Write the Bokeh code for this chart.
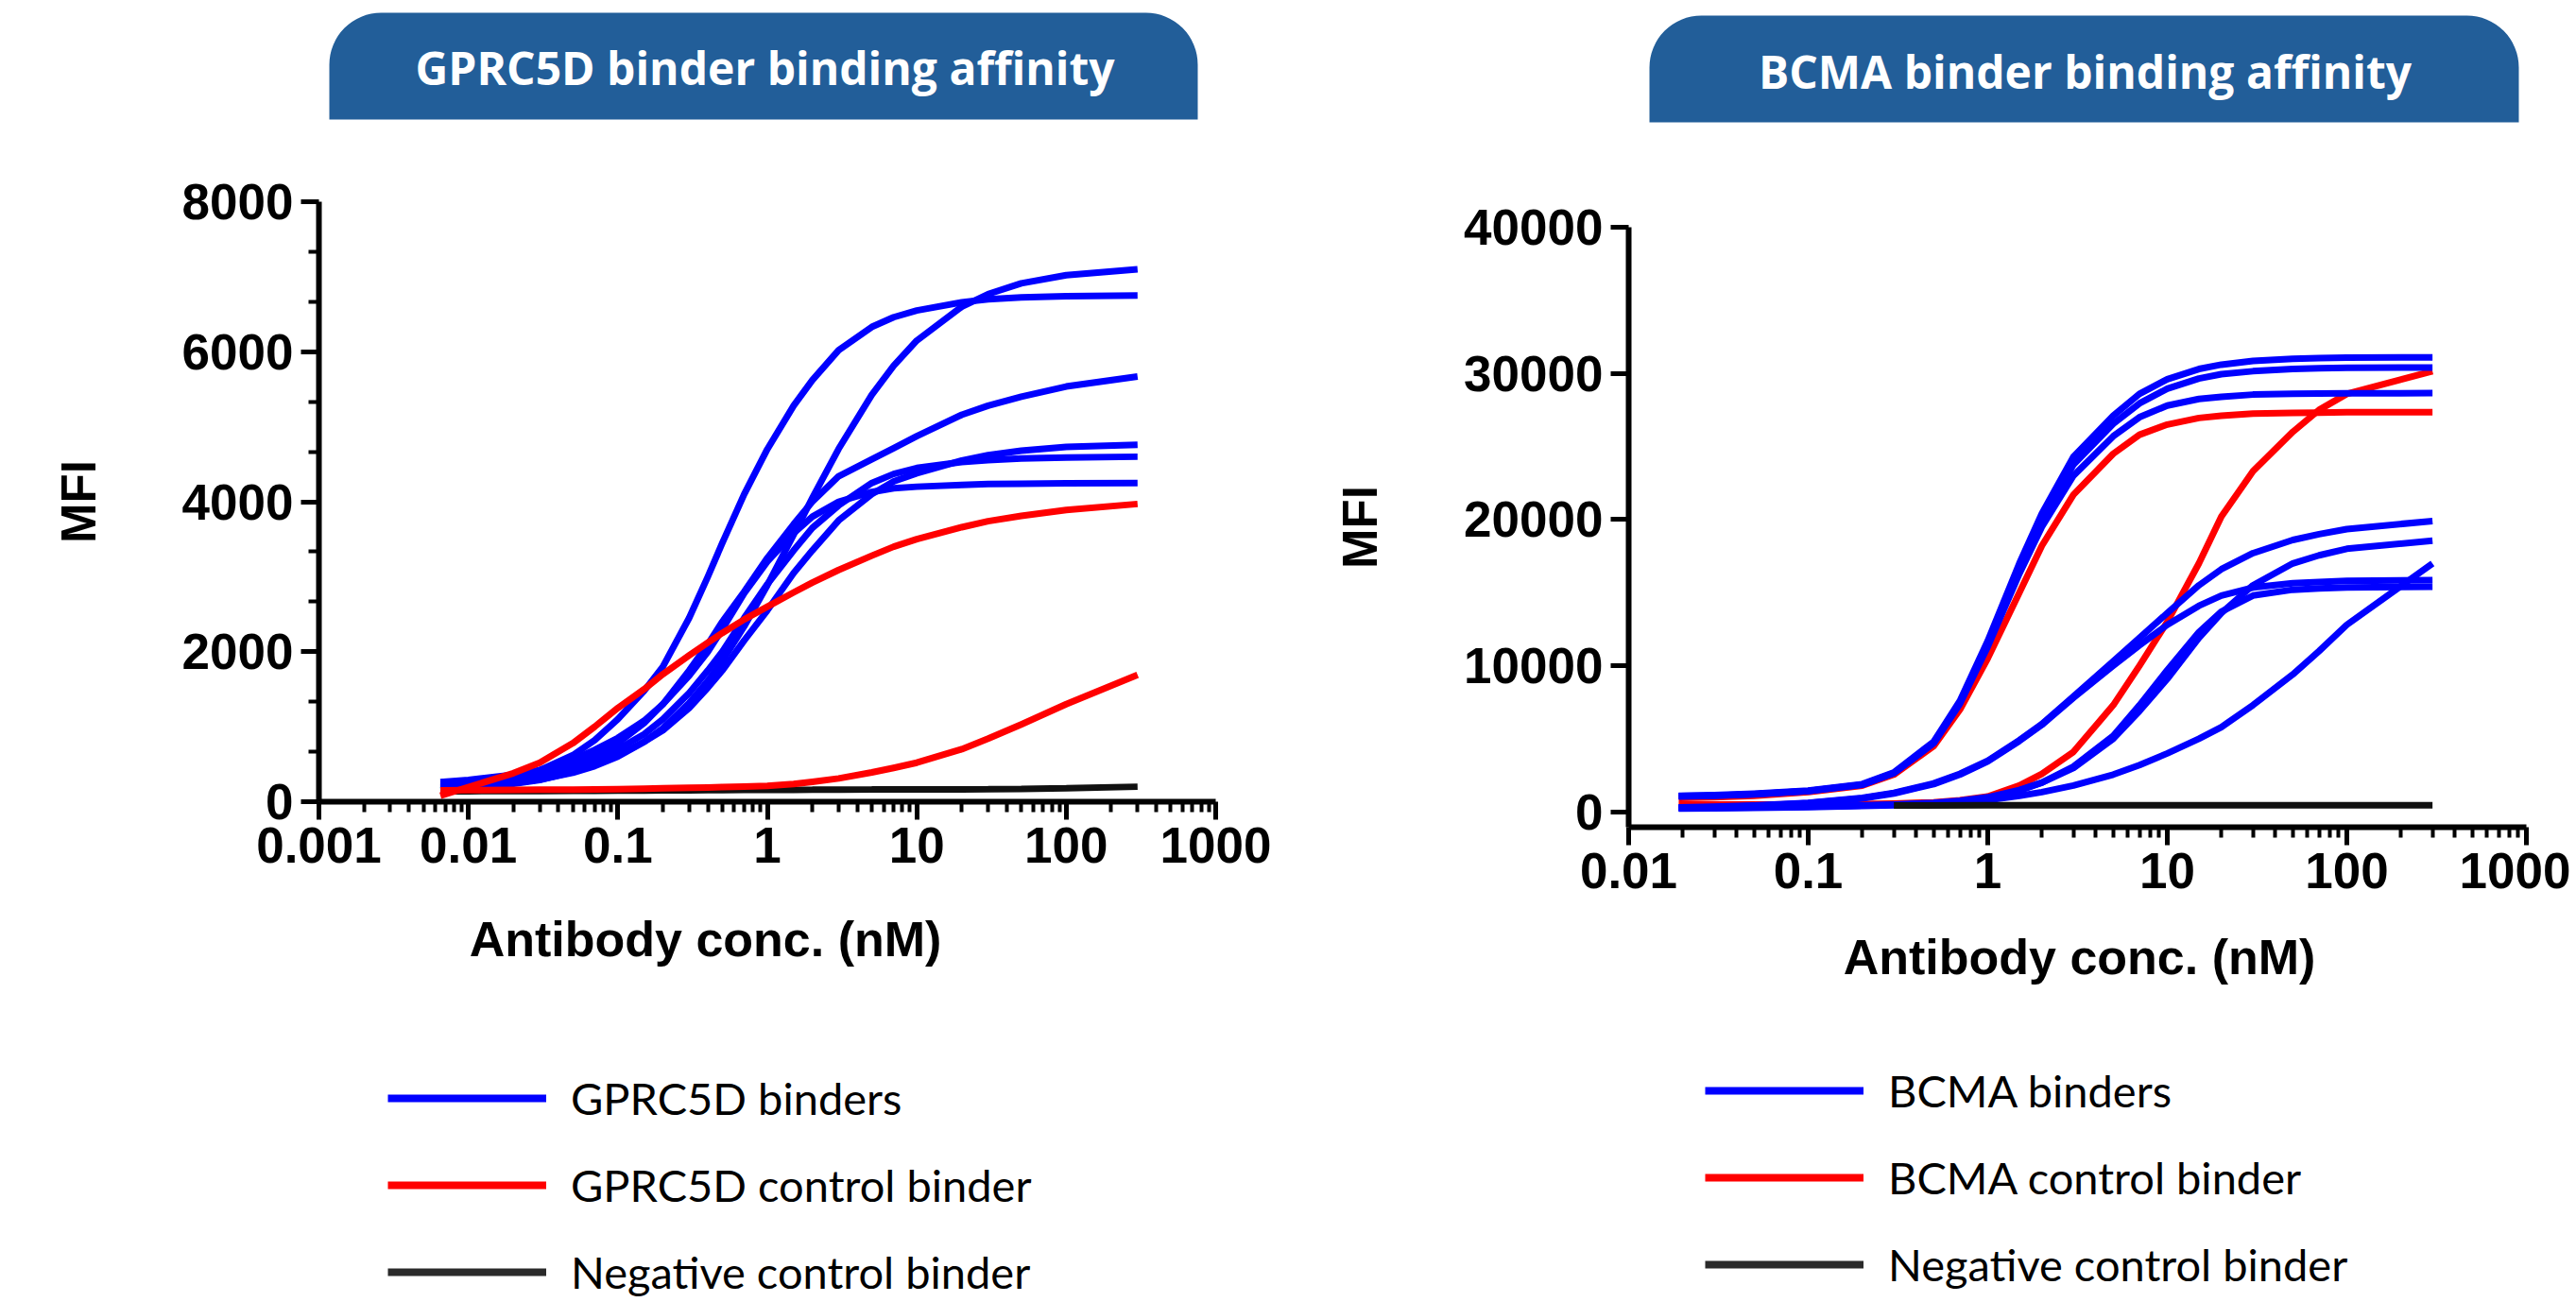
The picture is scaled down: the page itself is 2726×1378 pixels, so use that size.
from bokeh.plotting import figure
from bokeh.models import (Range1d, FixedTicker, CustomJSTickFormatter, BasicTickFormatter,
                          BoxAnnotation, Label, Legend, LegendItem)
from bokeh.layouts import row, column
from bokeh.embed import file_html
from bokeh.resources import INLINE

# ------------------------------------------------------------------ data
# GPRC5D panel -------------------------------------------------------------
gprc5d_title = "GPRC5D binder binding affinity"
gprc5d_legend = ["GPRC5D binders", "GPRC5D control binder", "Negative control binder"]
conc_g = [0.0065, 0.01, 0.02, 0.03, 0.05, 0.07, 0.1, 0.15, 0.2, 0.3, 0.4, 0.5, 0.7,
          1, 1.5, 2, 3, 5, 7, 10, 20, 30, 50, 100, 300]
gprc5d_binder_a = [200, 230, 320, 420, 620, 820, 1100, 1480, 1800, 2450, 3000, 3450, 4100,
                   4700, 5280, 5620, 6020, 6330, 6460, 6550, 6660, 6700, 6725, 6740, 6750]
gprc5d_binder_b = [184, 201, 250, 296, 387, 475, 601, 798, 980, 1315, 1611, 1877, 2338,
                   2886, 3562, 4049, 4705, 5425, 5813, 6149, 6600, 6768, 6912, 7020, 7100]
gprc5d_binder_c = [230, 255, 320, 380, 500, 610, 780, 1050, 1300, 1750, 2100, 2400, 2800,
                   3250, 3700, 4000, 4340, 4565, 4714, 4873, 5159, 5280, 5401, 5536, 5670]
gprc5d_binder_d = [150, 180, 240, 290, 400, 500, 620, 800, 950, 1250, 1520, 1750, 2150,
                   2550, 3050, 3350, 3750, 4100, 4270, 4380, 4550, 4620, 4680, 4730, 4760]
gprc5d_binder_e = [170, 200, 270, 340, 450, 560, 700, 900, 1100, 1450, 1750, 2000, 2450,
                   2900, 3350, 3650, 3950, 4250, 4370, 4450, 4530, 4555, 4575, 4590, 4600]
gprc5d_binder_f = [260, 290, 360, 420, 560, 690, 850, 1080, 1300, 1680, 2000, 2300, 2780,
                   3200, 3580, 3800, 4000, 4130, 4180, 4200, 4225, 4235, 4240, 4245, 4250]
gprc5d_control_1 = [80, 195, 380, 520, 780, 1000, 1250, 1500, 1700, 1950, 2120, 2250, 2430,
                    2600, 2790, 2920, 3090, 3280, 3400, 3500, 3660, 3740, 3810, 3890, 3970]
gprc5d_control_2 = [150, 155, 158, 160, 162, 165, 168, 173, 178, 185, 190, 195, 202,
                    210, 235, 265, 310, 390, 450, 520, 700, 840, 1030, 1300, 1690]
gprc5d_negative = [140, 140, 142, 143, 145, 146, 148, 149, 150, 152, 153, 155, 157,
                   158, 159, 160, 162, 163, 164, 165, 165, 167, 170, 178, 200]
x_ticks_g = [0.001, 0.01, 0.1, 1, 10, 100, 1000]
y_ticks_g = [0, 2000, 4000, 6000, 8000]

# BCMA panel ---------------------------------------------------------------
bcma_title = "BCMA binder binding affinity"
bcma_legend = ["BCMA binders", "BCMA control binder", "Negative control binder"]
conc_b = [0.019, 0.03, 0.05, 0.1, 0.2, 0.3, 0.5, 0.7, 1, 1.5, 2, 3, 5, 7, 10, 15, 20,
          30, 50, 70, 100, 300]
bcma_binder_t1 = [1100, 1150, 1250, 1450, 1900, 2700, 4800, 7600, 11700, 17000, 20400, 24300,
                  27100, 28600, 29600, 30300, 30600, 30850, 31000, 31050, 31080, 31100]
bcma_binder_t2 = [1080, 1120, 1220, 1420, 1860, 2650, 4700, 7450, 11450, 16650, 19950, 23750,
                  26550, 27950, 28950, 29650, 29950, 30150, 30300, 30350, 30380, 30400]
bcma_binder_t3 = [1050, 1100, 1200, 1420, 1850, 2650, 4700, 7400, 11300, 16300, 19500, 23000,
                  25700, 27000, 27800, 28250, 28400, 28550, 28600, 28625, 28640, 28650]
bcma_binder_m1 = [300, 350, 430, 620, 950, 1300, 1950, 2600, 3500, 4900, 6000, 7900,
                  10300, 11900, 13600, 15500, 16600, 17700, 18600, 19000, 19350, 19900]
bcma_binder_m2 = [250, 270, 300, 350, 430, 500, 620, 760, 1000, 1500, 2000, 3000,
                  5000, 6900, 9100, 11900, 13600, 15500, 17000, 17550, 18000, 18550]
bcma_binder_l1 = [280, 330, 410, 600, 920, 1260, 1900, 2550, 3450, 4850, 5950, 7800,
                  10000, 11400, 12800, 14100, 14800, 15350, 15650, 15730, 15800, 15850]
bcma_binder_l2 = [230, 250, 280, 330, 400, 460, 580, 720, 950, 1450, 2000, 3100,
                  5200, 7300, 9700, 12300, 13700, 14800, 15200, 15290, 15350, 15400]
bcma_binder_s = [300, 310, 330, 370, 430, 480, 560, 650, 800, 1100, 1350, 1800,
                 2550, 3200, 4000, 5000, 5800, 7300, 9400, 11000, 12800, 17000]
bcma_control_1 = [950, 1000, 1100, 1350, 1800, 2550, 4500, 7000, 10500, 15000, 18200, 21700,
                  24500, 25800, 26500, 26950, 27100, 27250, 27300, 27320, 27340, 27350]
bcma_control_2 = [500, 500, 505, 510, 530, 570, 650, 800, 1050, 1800, 2600, 4100,
                  7300, 10000, 13000, 17000, 20200, 23300, 26000, 27500, 28600, 30150]
conc_b_neg = [0.3, 1, 10, 100, 300]
bcma_negative = [440, 445, 450, 455, 460]
x_ticks_b = [0.01, 0.1, 1, 10, 100, 1000]
y_ticks_b = [0, 10000, 20000, 30000, 40000]

x_label = "Antibody conc. (nM)"
y_label = "MFI"

# ------------------------------------------------------------------ style / geometry
BLUE, RED, BLACK = "#0000FF", "#FF0000", "#111111"
LEG_BLACK = "#2a2a2a"
BANNER = "#225E99"
AX_FONT = "Liberation Sans"
LW = 7
TOTAL_H = 1376
Y_BANNER_END = 178
Y_PLOT_END = 965

# per column: (col_left, col_right, frame_left, frame_right, frame_top, frame_bottom)
GEOM_G = (0, 1363, 337, 1286, 213, 848)
GEOM_B = (1363, 2720, 1723, 2673, 240, 875)


def blank_fig(geom, y0, y1):
    c0, c1, f0, f1, _, _ = geom
    p = figure(width=c1 - c0, height=y1 - y0,
               x_range=Range1d(f0, f1), y_range=Range1d(y1, y0),
               output_backend="svg", toolbar_location=None, tools="",
               min_border_left=f0 - c0, min_border_right=c1 - f1,
               min_border_top=0, min_border_bottom=0,
               x_axis_location=None, y_axis_location=None)
    p.grid.visible = False
    p.outline_line_color = None
    p.background_fill_color = "white"
    p.border_fill_color = "white"
    return p


def banner(geom, title, box, center):
    p = blank_fig(geom, 0, Y_BANNER_END)
    l, r, t, b = box
    p.add_layout(BoxAnnotation(left=l, right=r, top=t, bottom=b,
                               fill_color=BANNER, fill_alpha=1.0, line_color=None,
                               border_radius=(55, 55, 0, 0)))
    p.add_layout(Label(x=center[0], y=center[1], text=title, text_align="center",
                       text_baseline="middle", text_color="white", text_font="Open Sans",
                       text_font_style="bold", text_font_size="48px"))
    return p


def style_axes(p, xticks, yticks, yminor):
    xminor = [m * t for t in xticks[:-1] for m in range(2, 10)]
    p.xaxis.ticker = FixedTicker(ticks=xticks, minor_ticks=xminor)
    p.xaxis.formatter = CustomJSTickFormatter(code="return String(Number(tick.toPrecision(6)));")
    p.yaxis.ticker = FixedTicker(ticks=yticks, minor_ticks=yminor)
    p.yaxis.formatter = BasicTickFormatter(use_scientific=False)
    for ax in (p.xaxis[0], p.yaxis[0]):
        ax.axis_line_width = 6
        ax.axis_line_color = "black"
        ax.major_tick_line_width = 5
        ax.minor_tick_line_width = 4
        ax.major_tick_line_color = "black"
        ax.minor_tick_line_color = "black"
        ax.major_tick_in = 0
        ax.major_tick_out = 19
        ax.minor_tick_in = 0
        ax.minor_tick_out = 11
        ax.major_label_text_font = AX_FONT
        ax.major_label_text_font_style = "bold"
        ax.major_label_text_font_size = "53px"
        ax.major_label_text_color = "black"
        ax.major_label_standoff = 8
    p.yaxis.axis_label = y_label
    p.yaxis.axis_label_text_font = AX_FONT
    p.yaxis.axis_label_text_font_style = "bold"
    p.yaxis.axis_label_text_font_size = "51px"
    p.yaxis.axis_label_text_color = "black"
    p.yaxis.axis_label_standoff = 78


def plot_fig(geom, xr, yr):
    c0, c1, f0, f1, ft, fb = geom
    p = figure(width=c1 - c0, height=Y_PLOT_END - Y_BANNER_END, x_axis_type="log",
               x_range=Range1d(*xr), y_range=Range1d(*yr),
               output_backend="svg", toolbar_location=None, tools="",
               min_border_left=f0 - c0, min_border_right=c1 - f1,
               min_border_top=ft - Y_BANNER_END, min_border_bottom=Y_PLOT_END - fb)
    p.grid.visible = False
    p.outline_line_color = None
    p.background_fill_color = "white"
    p.border_fill_color = "white"
    return p


def lower_fig(geom, labels, xlab_pos, leg_left, leg_top):
    c0, c1, f0, f1, _, _ = geom
    p = blank_fig(geom, Y_PLOT_END, TOTAL_H)
    p.add_layout(Label(x=xlab_pos[0], y=xlab_pos[1], text=x_label, text_align="center",
                       text_baseline="middle", text_font=AX_FONT, text_font_style="bold",
                       text_font_size="52px", text_color="black"))
    nan = float("nan")
    swatches = [p.line(x=[nan], y=[nan], line_color=c, line_width=8)
                for c in (BLUE, RED, LEG_BLACK)]
    items = [LegendItem(label=lab, renderers=[r]) for lab, r in zip(labels, swatches)]
    gh, sp = 62, 30
    leg_h = 3 * gh + 2 * sp
    leg = Legend(items=items, location=(leg_left - f0, TOTAL_H - (leg_top + leg_h)),
                 orientation="vertical",
                 glyph_width=168, glyph_height=gh, label_height=gh, label_width=10,
                 label_standoff=26, spacing=sp, padding=0, margin=0,
                 border_line_color=None, background_fill_alpha=0,
                 label_text_font="Lato", label_text_font_size="47px", label_text_color="black")
    p.add_layout(leg)
    return p


# ------------------------------------------------------------------ GPRC5D
pg = plot_fig(GEOM_G, (0.001, 1000), (0, 8000))
pg.line(conc_g, gprc5d_negative, line_color=BLACK, line_width=LW)
for ys in (gprc5d_binder_a, gprc5d_binder_b, gprc5d_binder_c,
           gprc5d_binder_d, gprc5d_binder_e, gprc5d_binder_f):
    pg.line(conc_g, ys, line_color=BLUE, line_width=LW, line_join="round")
for ys in (gprc5d_control_2, gprc5d_control_1):
    pg.line(conc_g, ys, line_color=RED, line_width=LW, line_join="round")
style_axes(pg, x_ticks_g, y_ticks_g,
           [t + k * 2000 / 3 for t in y_ticks_g[:-1] for k in (1, 2)])

# ------------------------------------------------------------------ BCMA
pb = plot_fig(GEOM_B, (0.01, 1000), (-1050, 40000))
for ys in (bcma_control_1, bcma_control_2):
    pb.line(conc_b, ys, line_color=RED, line_width=LW, line_join="round")
for ys in (bcma_binder_t1, bcma_binder_t2, bcma_binder_t3, bcma_binder_m1,
           bcma_binder_m2, bcma_binder_l1, bcma_binder_l2, bcma_binder_s):
    pb.line(conc_b, ys, line_color=BLUE, line_width=LW, line_join="round")
pb.line(conc_b_neg, bcma_negative, line_color=BLACK, line_width=LW)
style_axes(pb, x_ticks_b, y_ticks_b, [])

# ------------------------------------------------------------------ layout
bg = banner(GEOM_G, gprc5d_title, (348, 1267, 13, 126), (809, 71))
bb = banner(GEOM_B, bcma_title, (1745, 2665, 16, 129), (2206, 75))
lg = lower_fig(GEOM_G, gprc5d_legend, (746, 993), 410, 1131)
lb = lower_fig(GEOM_B, bcma_legend, (2200, 1012), 1804, 1123)

layout = row(column(bg, pg, lg), column(bb, pb, lb))
open("out.html", "w").write(file_html(layout, INLINE))
